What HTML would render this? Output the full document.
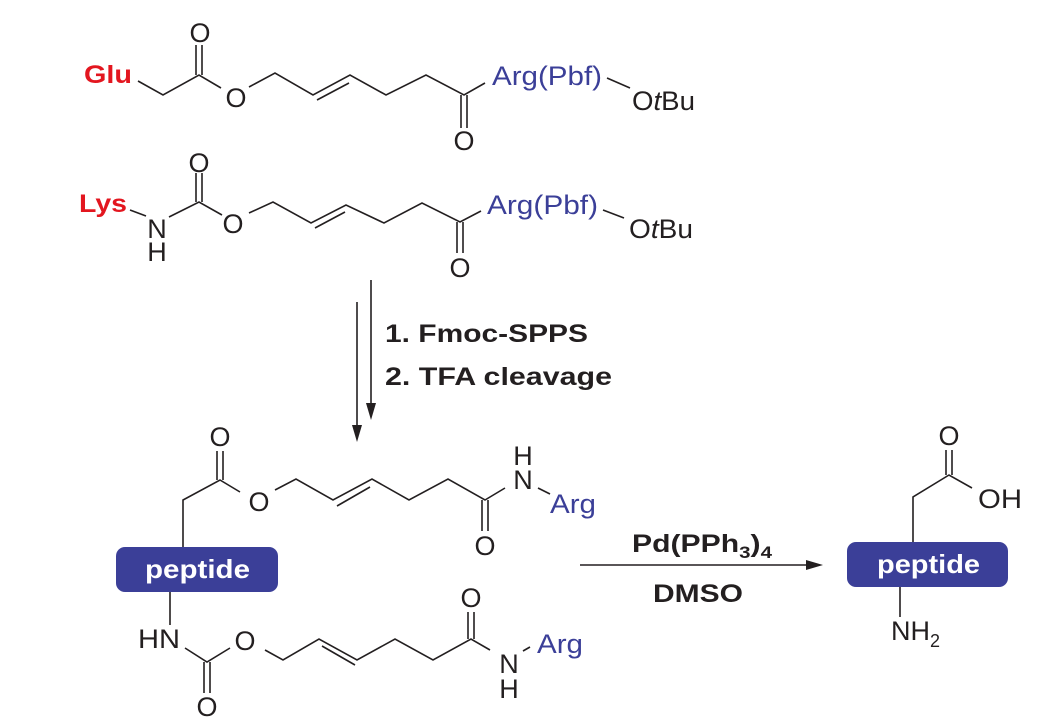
<!DOCTYPE html>
<html><head><meta charset="utf-8"><style>
html,body{margin:0;padding:0;background:#fff;}
svg{display:block;}
text{font-family:"Liberation Sans",Arial,sans-serif;}
</style></head><body>
<svg width="1051" height="722" viewBox="0 0 1051 722" xmlns="http://www.w3.org/2000/svg">
<g stroke="#231f20" stroke-width="1.6" fill="none">
<polyline points="138,81 163,95 199,75 221,88"/>
<line x1="196" y1="75" x2="196" y2="45"/><line x1="202" y1="75" x2="202" y2="45"/>
<polyline points="249,87 275,73 313,95 350,75 386,95 426,75 464,95 485,83"/>
<line x1="317" y1="100" x2="349" y2="83"/>
<line x1="461" y1="95" x2="461" y2="128"/><line x1="467" y1="95" x2="467" y2="128"/>
<line x1="607" y1="78" x2="630" y2="88"/>
<line x1="130" y1="210" x2="146" y2="216"/>
<polyline points="169,217 199,202 222,215"/>
<line x1="196" y1="202" x2="196" y2="173"/><line x1="202" y1="202" x2="202" y2="173"/>
<polyline points="249,213 273,202 311,223 346,205 384,223 422,203 460,222 481,211"/>
<line x1="315" y1="228" x2="345" y2="212"/>
<line x1="457" y1="222" x2="457" y2="253"/><line x1="463" y1="222" x2="463" y2="253"/>
<line x1="603" y1="210" x2="624" y2="218"/>
<line x1="357" y1="302" x2="357" y2="430"/>
<line x1="371" y1="280" x2="371" y2="408"/>
<polyline points="183,547 183,500 220,480 240,492"/>
<line x1="217" y1="480" x2="217" y2="451"/><line x1="223" y1="480" x2="223" y2="451"/>
<polyline points="275,490 296,479 333,500 372,479 409,500 448,479 485,500 505,488"/>
<line x1="337" y1="506" x2="370" y2="487"/>
<line x1="482" y1="500" x2="482" y2="531"/><line x1="488" y1="500" x2="488" y2="531"/>
<line x1="538" y1="488" x2="550" y2="494"/>
<line x1="170" y1="592" x2="170" y2="625"/>
<polyline points="185,648 207,662 230,648"/>
<line x1="204" y1="662" x2="204" y2="693"/><line x1="210" y1="662" x2="210" y2="693"/>
<polyline points="265,650 283,660 319,639 357,660 395,639 433,660 471,639 490,650"/>
<line x1="322" y1="646" x2="355" y2="665"/>
<line x1="468" y1="639" x2="468" y2="612"/><line x1="474" y1="639" x2="474" y2="612"/>
<line x1="523" y1="651" x2="530" y2="647"/>
<line x1="580" y1="565" x2="812" y2="565"/>
<polyline points="913,542 913,497 949,475 972,488"/>
<line x1="946" y1="475" x2="946" y2="450"/><line x1="952" y1="475" x2="952" y2="450"/>
<line x1="900" y1="587" x2="900" y2="617"/>
</g>
<g fill="#231f20">
<polygon points="352,425 362,425 357,442"/>
<polygon points="366,403 376,403 371,420"/>
<polygon points="806,560 823,565 806,570"/>
</g>
<g font-size="27" fill="#231f20" text-anchor="middle">
<text x="200" y="42">O</text>
<text x="236" y="107">O</text>
<text x="464" y="150">O</text>
<text x="199" y="172">O</text>
<text x="157" y="238">N</text>
<text x="157" y="261">H</text>
<text x="233" y="233">O</text>
<text x="460" y="277">O</text>
<text x="220" y="446">O</text>
<text x="259" y="511">O</text>
<text x="485" y="555">O</text>
<text x="523" y="489">N</text>
<text x="523" y="465">H</text>
<text x="245" y="650">O</text>
<text x="207" y="716">O</text>
<text x="471" y="607">O</text>
<text x="509" y="673">N</text>
<text x="509" y="698">H</text>
<text x="949" y="445">O</text>
</g>
<g font-size="27" fill="#231f20">
<text x="632" y="110" textLength="63" lengthAdjust="spacingAndGlyphs">O<tspan font-style="italic">t</tspan>Bu</text>
<text x="629" y="238" textLength="64" lengthAdjust="spacingAndGlyphs">O<tspan font-style="italic">t</tspan>Bu</text>
<text x="138" y="648" textLength="42" lengthAdjust="spacingAndGlyphs">HN</text>
<text x="978" y="508" textLength="44" lengthAdjust="spacingAndGlyphs">OH</text>
<text x="891" y="640">NH<tspan font-size="18" dy="7">2</tspan></text>
</g>
<g font-size="27" fill="#3b3f98">
<text x="492" y="85" textLength="110" lengthAdjust="spacingAndGlyphs">Arg(Pbf)</text>
<text x="487" y="214" textLength="111" lengthAdjust="spacingAndGlyphs">Arg(Pbf)</text>
<text x="550" y="513" textLength="46" lengthAdjust="spacingAndGlyphs">Arg</text>
<text x="537" y="653" textLength="46" lengthAdjust="spacingAndGlyphs">Arg</text>
</g>
<g font-size="25" font-weight="bold" fill="#e3161f">
<text x="84" y="83" textLength="48" lengthAdjust="spacingAndGlyphs">Glu</text>
<text x="79" y="212" textLength="48" lengthAdjust="spacingAndGlyphs">Lys</text>
</g>
<g font-size="25" font-weight="bold" fill="#231f20">
<text x="385" y="342" textLength="203" lengthAdjust="spacingAndGlyphs">1. Fmoc-SPPS</text>
<text x="385" y="385" textLength="227" lengthAdjust="spacingAndGlyphs">2. TFA cleavage</text>
<text x="632" y="552" textLength="140" lengthAdjust="spacingAndGlyphs">Pd(PPh<tspan font-size="17" dy="6">3</tspan><tspan dy="-6">)</tspan><tspan font-size="17" dy="6">4</tspan></text>
<text x="653" y="602" textLength="90" lengthAdjust="spacingAndGlyphs">DMSO</text>
</g>
<rect x="116" y="547" width="162" height="45" rx="9" fill="#3b3f98"/>
<rect x="847" y="542" width="161" height="45" rx="9" fill="#3b3f98"/>
<g font-size="26" font-weight="bold" fill="#fff">
<text x="145" y="578" textLength="105" lengthAdjust="spacingAndGlyphs">peptide</text>
<text x="877" y="573" textLength="103" lengthAdjust="spacingAndGlyphs">peptide</text>
</g>
</svg>
</body></html>
